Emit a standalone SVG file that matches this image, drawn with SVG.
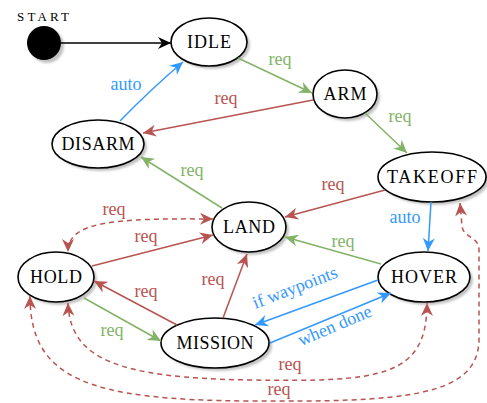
<svg xmlns="http://www.w3.org/2000/svg" width="487" height="403" viewBox="0 0 487 403">
  <defs>
    <style>
      .node { fill: #ffffff; stroke: #000000; stroke-width: 1.6; }
      .shadow { fill: #c2c2c2; filter: url(#soft); }
      .nl { font-family: "Liberation Serif", "DejaVu Serif", serif; font-size: 18px; text-anchor: middle; fill: #000000; }
      .el { font-family: "Liberation Serif", "DejaVu Serif", serif; font-size: 18px; text-anchor: middle; }
      .edge { fill: none; stroke-width: 1.5; }
      .k { stroke: #000000; }
      .r { stroke: #b85450; }
      .g { stroke: #82b366; }
      .b { stroke: #3399ff; }
      .dash { stroke-dasharray: 5 4; }
      .tr { fill: #b85450; }
      .tg { fill: #82b366; }
      .tb { fill: #3399ff; }
    </style>
    <filter id="soft" x="-10%" y="-10%" width="120%" height="120%">
      <feGaussianBlur stdDeviation="0.8"/>
    </filter>
    <marker id="ah-k" viewBox="-14 -7 15 14" refX="0" refY="0" markerWidth="15" markerHeight="14" markerUnits="userSpaceOnUse" orient="auto-start-reverse">
      <path d="M0,0 L-13,-6 L-9,0 L-13,6 Z" fill="#000000"/>
    </marker>
    <marker id="ah-r" viewBox="-14 -7 15 14" refX="0" refY="0" markerWidth="15" markerHeight="14" markerUnits="userSpaceOnUse" orient="auto-start-reverse">
      <path d="M0,0 L-13,-6 L-9,0 L-13,6 Z" fill="#b85450"/>
    </marker>
    <marker id="ah-g" viewBox="-14 -7 15 14" refX="0" refY="0" markerWidth="15" markerHeight="14" markerUnits="userSpaceOnUse" orient="auto-start-reverse">
      <path d="M0,0 L-13,-6 L-9,0 L-13,6 Z" fill="#82b366"/>
    </marker>
    <marker id="ah-b" viewBox="-14 -7 15 14" refX="0" refY="0" markerWidth="15" markerHeight="14" markerUnits="userSpaceOnUse" orient="auto-start-reverse">
      <path d="M0,0 L-13,-6 L-9,0 L-13,6 Z" fill="#3399ff"/>
    </marker>
  </defs>

  <rect width="487" height="403" fill="#ffffff"/>

  <!-- states -->
  <g id="start">
    <circle class="shadow" cx="47" cy="46" r="17"/>
    <circle cx="44" cy="43" r="17" fill="#000000"/>
    <text class="nl" x="43" y="21" style="font-size:13px" textLength="52">START</text>
  </g>
  <g id="idle">
    <ellipse class="shadow" cx="212" cy="45" rx="38" ry="24"/>
    <ellipse class="node" cx="209" cy="42" rx="38" ry="24"/>
    <text class="nl" x="209" y="48" textLength="44">IDLE</text>
  </g>
  <g id="arm">
    <ellipse class="shadow" cx="348" cy="97" rx="32" ry="24"/>
    <ellipse class="node" cx="345" cy="94" rx="32" ry="24"/>
    <text class="nl" x="345" y="100" textLength="43">ARM</text>
  </g>
  <g id="takeoff">
    <ellipse class="shadow" cx="435" cy="180" rx="54" ry="25"/>
    <ellipse class="node" cx="432" cy="177" rx="54" ry="25"/>
    <text class="nl" x="432" y="183" textLength="90">TAKEOFF</text>
  </g>
  <g id="disarm">
    <ellipse class="shadow" cx="101" cy="147" rx="46" ry="24"/>
    <ellipse class="node" cx="98" cy="144" rx="46" ry="24"/>
    <text class="nl" x="98" y="150" textLength="73">DISARM</text>
  </g>
  <g id="land">
    <ellipse class="shadow" cx="252" cy="230" rx="37" ry="25"/>
    <ellipse class="node" cx="249" cy="227" rx="37" ry="25"/>
    <text class="nl" x="249" y="233" textLength="52">LAND</text>
  </g>
  <g id="hold">
    <ellipse class="shadow" cx="59" cy="280" rx="38" ry="25"/>
    <ellipse class="node" cx="56" cy="277" rx="38" ry="25"/>
    <text class="nl" x="56" y="283" textLength="52">HOLD</text>
  </g>
  <g id="hover">
    <ellipse class="shadow" cx="427" cy="280" rx="46" ry="25"/>
    <ellipse class="node" cx="424" cy="277" rx="46" ry="25"/>
    <text class="nl" x="424" y="283" textLength="66">HOVER</text>
  </g>
  <g id="mission">
    <ellipse class="shadow" cx="218" cy="346" rx="54" ry="25"/>
    <ellipse class="node" cx="215" cy="343" rx="54" ry="25"/>
    <text class="nl" x="215" y="349" textLength="77">MISSION</text>
  </g>

  <!-- transitions -->
  <g id="connectors">
    <path class="edge k" d="M61,43 L171,43" marker-end="url(#ah-k)"/>

    <path class="edge g" d="M238,58 L312,93" marker-end="url(#ah-g)"/>
    <text class="el tg" x="280" y="65">req</text>

    <path class="edge r" d="M313,100 L143,133" marker-end="url(#ah-r)"/>
    <text class="el tr" x="226" y="104">req</text>

    <path class="edge g" d="M365,113 L407,153" marker-end="url(#ah-g)"/>
    <text class="el tg" x="400" y="122">req</text>

    <path class="edge b" d="M120,121 Q150,90 183,62" marker-end="url(#ah-b)"/>
    <text class="el tb" x="126" y="90">auto</text>

    <path class="edge r" d="M385,190 L285,217" marker-end="url(#ah-r)"/>
    <text class="el tr" x="333" y="190">req</text>

    <path class="edge b" d="M431,202 L428,251" marker-end="url(#ah-b)"/>
    <text class="el tb" x="405" y="223">auto</text>

    <path class="edge g" d="M222,208 L141,157" marker-end="url(#ah-g)"/>
    <text class="el tg" x="192" y="176">req</text>

    <path class="edge g" d="M381,264 L285,237" marker-end="url(#ah-g)"/>
    <text class="el tg" x="343" y="247">req</text>

    <path class="edge r" d="M92,266 L213,235" marker-end="url(#ah-r)"/>
    <text class="el tr" x="146" y="242">req</text>

    <path class="edge r dash" d="M213,219 C110,218 68,222 68,252" marker-start="url(#ah-r)" marker-end="url(#ah-r)"/>
    <text class="el tr" x="114" y="215">req</text>

    <path class="edge r" d="M177,325 L94,281" marker-end="url(#ah-r)"/>
    <text class="el tr" x="146" y="297">req</text>

    <path class="edge g" d="M84,298 L161,341" marker-end="url(#ah-g)"/>
    <text class="el tg" x="112" y="336">req</text>

    <path class="edge r" d="M223,318 L247,254" marker-end="url(#ah-r)"/>
    <text class="el tr" x="213" y="285">req</text>

    <path class="edge b" d="M378,280 L255,325" marker-end="url(#ah-b)"/>
    <text class="el tb" transform="translate(297,293) rotate(-21)">if waypoints</text>

    <path class="edge b" d="M270,343 L391,293" marker-end="url(#ah-b)"/>
    <text class="el tb" transform="translate(337,331) rotate(-23)">when done</text>

    <path class="edge r dash" d="M68,303 C70,360 120,378 250,380 C380,382 427,378 427,303" marker-start="url(#ah-r)" marker-end="url(#ah-r)"/>
    <text class="el tr" x="290" y="370">req</text>

    <path class="edge r dash" d="M30,296 C30,380 90,400 250,401 C400,402 478,398 479,340 L479,250 C479,236 463,238 462,226 L460,203" marker-start="url(#ah-r)" marker-end="url(#ah-r)"/>
    <text class="el tr" x="279" y="395">req</text>
  </g>
</svg>
